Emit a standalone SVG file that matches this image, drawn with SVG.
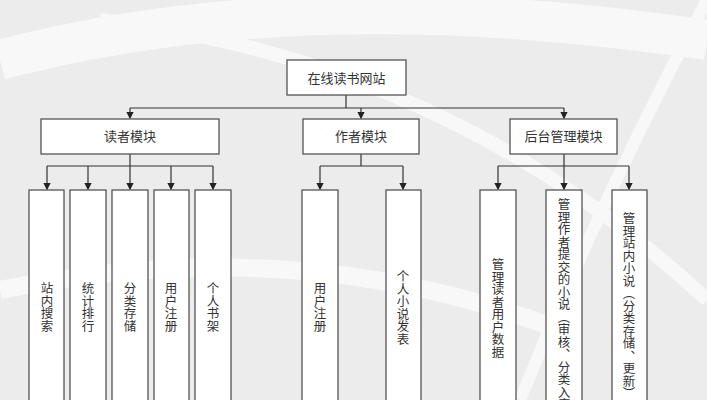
<svg xmlns="http://www.w3.org/2000/svg" width="707" height="400" viewBox="0 0 707 400">
<style>
.b{fill:#fff;stroke:#555;stroke-width:1.3}
.t{font-family:"Noto Sans CJK SC","Liberation Serif",serif;font-size:13px;fill:#333}
.v{font-family:"Noto Sans CJK SC","Liberation Serif",serif;font-size:12.5px;fill:#333;writing-mode:tb;}
.c{stroke:#333;stroke-width:1.2;fill:none;marker-end:url(#a)}
.l{stroke:#333;stroke-width:1.2;fill:none}
</style>
<defs><marker id="a" markerWidth="6" markerHeight="6" refX="5" refY="3" orient="auto"><path d="M0,0L6,3L0,6z" fill="#222"/></marker></defs>
<rect width="707" height="400" fill="#ececec"/>
<g fill="none" stroke="#f8f8f8">
<path d="M0,60 Q300,-20 707,40" stroke-width="40"/>
<path d="M100,20 Q450,60 707,300" stroke-width="14"/>
<path d="M707,0 Q600,200 520,400" stroke-width="12"/>
<path d="M0,290 Q300,230 560,330" stroke-width="18"/>
</g>
<g id="connectors">
<path class="l" d="M346,95V108M130,108H564"/>
<path class="c" d="M130,108V118"/><path class="c" d="M361,108V118"/><path class="c" d="M564,108V118"/>
<path class="l" d="M130,154V166M47,166H213"/>
<path class="c" d="M47,166V189"/><path class="c" d="M88,166V189"/><path class="c" d="M130,166V189"/><path class="c" d="M171,166V189"/><path class="c" d="M213,166V189"/>
<path class="l" d="M361,154V166M320,166H403"/>
<path class="c" d="M320,166V189"/><path class="c" d="M403,166V189"/>
<path class="l" d="M564,154V166M498,166H629"/>
<path class="c" d="M498,166V189"/><path class="c" d="M564,166V189"/><path class="c" d="M629,166V189"/>
</g>
<g id="root"><rect class="b" x="287" y="60" width="119" height="35"/><text class="t" x="346.5" y="83" text-anchor="middle" font-size="16">在线读书网站</text></g>
<g id="reader"><rect class="b" x="41" y="119" width="178" height="35"/><text class="t" x="130" y="141" text-anchor="middle">读者模块</text></g>
<g id="author"><rect class="b" x="303" y="119" width="116" height="35"/><text class="t" x="361" y="141" text-anchor="middle">作者模块</text></g>
<g id="admin"><rect class="b" x="510" y="119" width="107" height="35"/><text class="t" x="563.5" y="141" text-anchor="middle">后台管理模块</text></g>
<g id="r1"><rect class="b" x="29" y="190" width="35" height="215"/><text class="v" x="47" y="282">站内搜索</text></g>
<g id="r2"><rect class="b" x="70" y="190" width="36" height="215"/><text class="v" x="88" y="282">统计排行</text></g>
<g id="r3"><rect class="b" x="112" y="190" width="36" height="215"/><text class="v" x="130" y="282">分类存储</text></g>
<g id="r4"><rect class="b" x="154" y="190" width="35" height="215"/><text class="v" x="171" y="282">用户注册</text></g>
<g id="r5"><rect class="b" x="195" y="190" width="36" height="215"/><text class="v" x="213" y="282">个人书架</text></g>
<g id="a1"><rect class="b" x="302" y="190" width="36" height="215"/><text class="v" x="320" y="282">用户注册</text></g>
<g id="a2"><rect class="b" x="386" y="190" width="35" height="215"/><text class="v" x="403" y="270">个人小说发表</text></g>
<g id="m1"><rect class="b" x="480" y="190" width="36" height="215"/><text class="v" x="498" y="258">管理读者用户数据</text></g>
<g id="m2"><rect class="b" x="546" y="190" width="36" height="215"/><text class="v" x="564" y="198">管理作者提交的小说（审核、分类入库</text></g>
<g id="m3"><rect class="b" x="612" y="190" width="35" height="215"/><text class="v" x="629" y="212">管理站内小说（分类存储、更新）</text></g>
</svg>
